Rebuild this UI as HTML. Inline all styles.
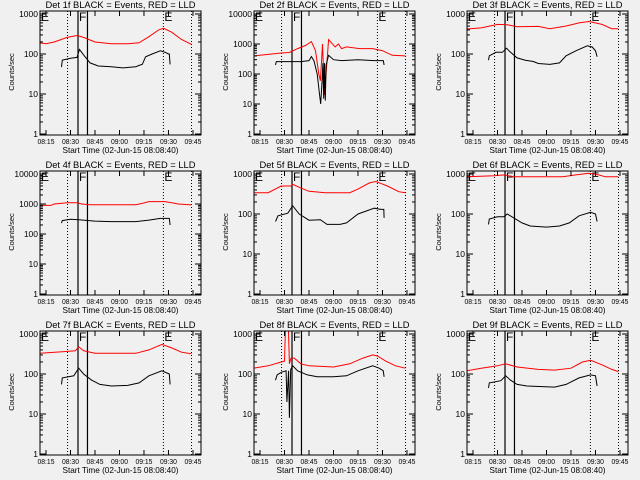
<!DOCTYPE html>
<html><head><meta charset="utf-8"><style>
html,body{margin:0;padding:0;background:#f0f0f0;}
svg{display:block;font-family:"Liberation Sans",sans-serif;}
</style></head><body>
<svg id="chart" width="640" height="480" viewBox="0 0 640 480" xmlns="http://www.w3.org/2000/svg">
<rect x="0" y="0" width="640" height="480" fill="#f0f0f0"/>
</svg>
<script>
// x tick labels (minutes after 08:00) and text
const tickMinutes = [15, 30, 45, 60, 75, 90, 105];
const tickLabels = ["08:15", "08:30", "08:45", "09:00", "09:15", "09:30", "09:45"];
const dottedTimes = [28.2, 86.9, 104.1];
const solidTimes = [34.6, 40.4];
// Panel data (time in minutes after 08:00, counts/sec)
const red1T = [11,15,20,28,34,38,45,55,65,72,78,84,87,92,98,104];
const red1V = [190,180,200,260,290,260,200,180,180,190,270,400,440,350,230,175];
const blk1T = [24.5,25,30,34,35.5,38,42,47,55,62,70,72,74,76,80,85,88,90,90.5,91];
const blk1V = [47,70,78,82,130,95,60,50,48,45,48,52,55,85,100,120,110,100,100,55];
const red2T = [11,28,33,38,43,46.5,49,51,52,53.3,54.5,57,61,63,65,68,76,84,90,96,104];
const red2V = [400,500,520,700,900,1200,600,100,60,1000,20,1400,800,1000,700,800,700,700,600,420,400];
const blk2T = [24.5,25,40,45,46.5,48,50,51.5,52.2,53,53.5,54,54.5,55,55.5,57,60,65,75,85,90.5,91];
const blk2V = [200,260,260,280,380,280,100,20,10,60,230,15,230,13,200,420,300,280,300,280,280,200];
const red3T = [11,20,30,36,42,55,62,72,80,86,94,100,104];
const red3V = [420,450,550,540,480,490,430,500,600,650,550,430,430];
const blk3T = [24.5,25,29,33,35.5,38,42,47,52,55,62,68,72,78,85,88,90,91];
const blk3V = [70,90,110,110,140,110,80,70,65,58,55,60,90,120,160,150,120,85];
const red4T = [11,18,20,28,34,37,42,70,74,78,88,92,96,104];
const red4V = [900,900,1000,1100,1100,1000,950,950,1050,1200,1200,1100,1000,930];
const blk4T = [24.5,25,30,35,45,55,70,78,85,90.5,91];
const blk4V = [230,280,310,300,270,260,260,290,330,330,200];
const red5T = [11,20,28,34,35,40,45,55,70,75,82,86,93,100,104];
const red5V = [340,340,500,500,550,450,370,340,340,420,600,650,500,360,340];
const blk5T = [24.5,26,32,35,39,45,52,56,64,68,75,85,89,90.8,91];
const blk5V = [65,90,105,160,100,70,72,55,55,60,100,140,130,130,80];
const red6T = [11,28,34,40,70,78,86,92,96,104];
const red6V = [850,900,950,850,850,950,1050,950,850,850];
const blk6T = [24.5,25,30,34,36,40,45,50,60,68,74,80,87,90,91];
const blk6V = [55,75,85,85,100,80,60,50,47,50,60,90,110,100,65];
const red7T = [11,25,33,35,38,45,70,78,86,92,98,104];
const red7V = [330,360,380,480,380,330,330,400,550,450,350,320];
const blk7T = [24.5,25,32,35,38,43,48,55,65,72,78,86,90.5,91];
const blk7V = [55,80,90,140,100,70,55,50,52,60,90,120,100,55];
const red8T = [11,20,28,30,31,32,33,34,36,40,45,60,70,78,84,87,92,98,104];
const red8V = [140,160,200,210,5000,5000,180,250,250,180,160,150,180,250,300,280,210,160,140];
const blk8T = [24.5,25.5,28,31,31.5,32.5,33,33.8,35,38,44,50,60,68,75,84,88,90.5,91];
const blk8V = [70,95,110,120,20,120,8,130,160,120,95,85,85,90,120,160,140,120,85];
const red9T = [11,20,30,35,42,55,65,75,82,87,94,100,104];
const red9V = [120,140,160,180,150,130,125,140,200,220,170,130,115];
const blk9T = [24.5,25,32,35,38,42,48,65,72,80,87,90,91];
const blk9V = [45,60,68,90,70,55,50,47,55,80,95,90,50];

const panels = [
  {n:1,col:0,row:0,dec:3,rT:red1T,rV:red1V,bT:blk1T,bV:blk1V},
  {n:2,col:1,row:0,dec:4,rT:red2T,rV:red2V,bT:blk2T,bV:blk2V},
  {n:3,col:2,row:0,dec:3,rT:red3T,rV:red3V,bT:blk3T,bV:blk3V},
  {n:4,col:0,row:1,dec:4,rT:red4T,rV:red4V,bT:blk4T,bV:blk4V},
  {n:5,col:1,row:1,dec:3,rT:red5T,rV:red5V,bT:blk5T,bV:blk5V},
  {n:6,col:2,row:1,dec:3,rT:red6T,rV:red6V,bT:blk6T,bV:blk6V},
  {n:7,col:0,row:2,dec:3,rT:red7T,rV:red7V,bT:blk7T,bV:blk7V},
  {n:8,col:1,row:2,dec:3,rT:red8T,rV:red8V,bT:blk8T,bV:blk8V},
  {n:9,col:2,row:2,dec:3,rT:red9T,rV:red9V,bT:blk9T,bV:blk9V}
];
const colLeft = [40, 254, 467];
const NS = "http://www.w3.org/2000/svg";
const svg = document.getElementById('chart');
function mk(tag, attrs, parent){const e=document.createElementNS(NS,tag);for(const k in attrs)e.setAttribute(k,attrs[k]);(parent||svg).appendChild(e);return e;}

panels.forEach(p=>{
  const L = colLeft[p.col], R = L + 161, off = p.row*160;
  const T = 11+off, B = 135+off;
  const xs = t => L + 6 + (t-15)*1.633;
  const ys = v => 134 + off - Math.log10(v)*(120/p.dec);
  const g = mk('g',{});
  
  
  const cp = mk('clipPath',{id:'clip'+p.n},g);
  mk('rect',{x:L,y:T,width:R-L,height:B-T},cp);
  const title = mk('text',{x:(L+R)/2,y:8+off,'text-anchor':'middle','font-size':'9.5',fill:'#000',textLength:150,lengthAdjust:'spacingAndGlyphs'},g);
  title.textContent = 'Det '+p.n+'f BLACK = Events, RED = LLD';
  
  
  dottedTimes.forEach(t=>{const l=mk('line',{x1:xs(t),x2:xs(t),y1:T,y2:B,stroke:'#000','stroke-width':1,'stroke-dasharray':'1,2'},g);
    
    });
  solidTimes.forEach(t=>{const l=mk('line',{x1:xs(t),x2:xs(t),y1:T,y2:B,stroke:'#000','stroke-width':1.2},g);
    
    });
  [[L+1,'E'],[xs(solidTimes[0])+1,'F'],[xs(dottedTimes[1])+1,'E']].forEach(a=>{
    const tx=mk('text',{x:a[0],y:T+10,'font-size':'12',fill:'#000'},g);tx.textContent=a[1];
    
    });
  const pts=(T_,V_)=>T_.map((t,i)=>xs(t).toFixed(1)+','+ys(V_[i]).toFixed(1)).join(' ');
  const red=mk('polyline',{points:pts(p.rT,p.rV),fill:'none',stroke:'#ff0000','stroke-width':1,'clip-path':'url(#clip'+p.n+')'},g);
  
  
  const blk=mk('polyline',{points:pts(p.bT,p.bV),fill:'none',stroke:'#000','stroke-width':1,'clip-path':'url(#clip'+p.n+')'},g);
  
  
  const box=mk('rect',{x:L,y:T,width:R-L,height:B-T,fill:'none',stroke:'#000','stroke-width':1},g);
  
  
  for(let d=0; d<=p.dec; d++){
    const y=ys(Math.pow(10,d));
    mk('line',{x1:L,x2:L+6,y1:y,y2:y,stroke:'#000'},g);
    mk('line',{x1:R-6,x2:R,y1:y,y2:y,stroke:'#000'},g);
    const tl=mk('text',{x:L-2,y:y+3,'text-anchor':'end','font-size':'8.5',fill:'#000'},g);
    tl.textContent=String(Math.pow(10,d));
    
    
    if(d<p.dec){for(let m=2;m<10;m++){const ym=ys(m*Math.pow(10,d));
      mk('line',{x1:L,x2:L+3,y1:ym,y2:ym,stroke:'#000'},g);
      mk('line',{x1:R-3,x2:R,y1:ym,y2:ym,stroke:'#000'},g);}}
  }
  tickMinutes.forEach((t,i)=>{
    const x=xs(t);
    mk('line',{x1:x,x2:x,y1:B,y2:B-5,stroke:'#000'},g);
    mk('line',{x1:x,x2:x,y1:T,y2:T+5,stroke:'#000'},g);
    const tl=mk('text',{x:x,y:B+9,'text-anchor':'middle','font-size':'7.5',fill:'#000',textLength:17,lengthAdjust:'spacingAndGlyphs'},g);
    tl.textContent=tickLabels[i];
    
    
  });
  const xt=mk('text',{x:(L+R)/2,y:B+18,'text-anchor':'middle','font-size':'8.5',fill:'#000',textLength:116,lengthAdjust:'spacingAndGlyphs'},g);
  xt.textContent='Start Time (02-Jun-15 08:08:40)';
  
  
  const yt=mk('text',{x:0,y:0,'text-anchor':'middle','font-size':'7.5',fill:'#000',transform:'translate('+(L-26)+','+(72+off)+') rotate(-90)'},g);
  yt.textContent='Counts/sec';
  
  
});
</script>
</body></html>
